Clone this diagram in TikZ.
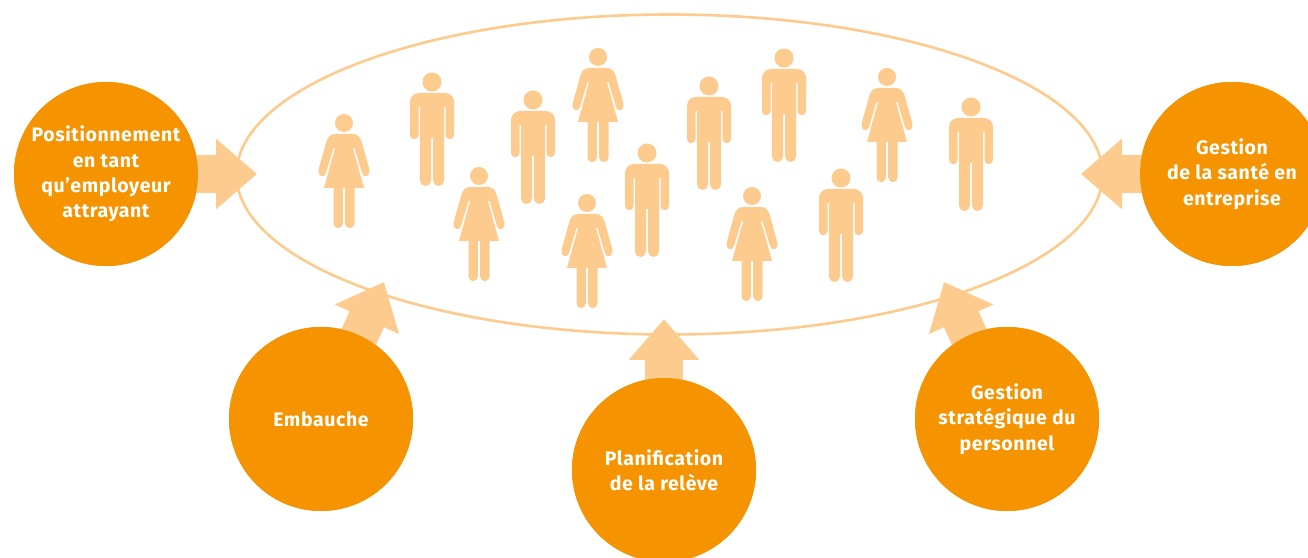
\documentclass[tikz,border=0pt]{standalone}
\usepackage{fontspec}
\setmainfont[LetterSpace=3]{Fira Sans}
\usetikzlibrary{arrows.meta}
\definecolor{deep}{HTML}{F59300}
\definecolor{pale}{HTML}{FDCB8D}
\tikzset{
  x=1pt,y=1pt,
  hub/.style={circle,fill=deep,draw=none,minimum size=184pt,inner sep=0pt,text=white,align=center,
    font=\fontsize{19.5}{25.4}\selectfont\bfseries},
  blockarrow/.style={draw=pale,line width=38pt,-{Triangle[length=41pt,width=68pt]}},
  group/.style={draw=pale,line width=2.6pt,ellipse,inner sep=0pt,minimum width=866pt,minimum height=320pt},
  man/.pic={
    \fill[pale] (0,0) circle (9.5);
    \fill[pale] (-22,-20) arc (180:90:9) -- (13,-11) arc (90:0:9) -- (22,-53) arc (0:-180:4.25)
      -- (13.5,-25) -- (12,-25) -- (12,-98.5) arc (0:-180:5.5) -- (1,-56) -- (-1,-56) -- (-1,-98.5)
      arc (0:-180:5.5) -- (-12,-25) -- (-13.5,-25) -- (-13.5,-53) arc (0:-180:4.25) -- cycle;
  },
  woman/.pic={
    \fill[pale] (0,0) circle (9);
    \fill[pale] (-9,-11) -- (9,-11) .. controls (14,-11) and (17,-15) .. (18,-20) -- (25.5,-47)
      .. controls (26.8,-53) and (19.5,-56) .. (18,-50) -- (10.5,-25) -- (9,-25) -- (20,-65) -- (10.5,-65)
      -- (10.5,-100.5) arc (0:-180:4.65) -- (1.2,-65) -- (-1.2,-65) -- (-1.2,-100.5) arc (0:-180:4.65)
      -- (-10.5,-65) -- (-20,-65) -- (-9,-25) -- (-10.5,-25) -- (-18,-50)
      .. controls (-19.5,-56) and (-26.8,-53) .. (-25.5,-47) -- (-18,-20) .. controls (-17,-15) and (-14,-11) .. (-9,-11) -- cycle;
  }
}
\begin{document}
\begin{tikzpicture}
\clip (0,0) rectangle (1308,557);
\fill[white] (0,0) rectangle (1308,557);
\usetikzlibrary{shapes.geometric}
\node[group] (team) at (669.5,382.5) {};
\coordinate (tipA) at (257,383);
\coordinate (tipB) at (384,275);
\coordinate (tipC) at (664,238);
\coordinate (tipD) at (944,275);
\coordinate (tipE) at (1081,383);
\node[hub] (posi) at (106,383) {Positionnement\\en tant\\qu’employeur\\attrayant};
\node[hub] (emb) at (321,138) {Embauche};
\node[hub] (plan) at (664,87) {Planification\\de la relève};
\node[hub] (strat) at (1007,138) {Gestion\\stratégique du\\personnel};
\node[hub] (sante) at (1232,383) {Gestion\\de la santé en\\entreprise};
\begin{scope}[on background layer/.style={}]
\draw[blockarrow] (posi.center) -- (tipA);
\draw[blockarrow] (emb.center) -- (tipB);
\draw[blockarrow] (plan.center) -- (tipC);
\draw[blockarrow] (strat.center) -- (tipD);
\draw[blockarrow] (sante.center) -- (tipE);
\end{scope}
\node[hub] at (posi) {Positionnement\\en tant\\qu’employeur\\attrayant};
\node[hub] at (emb) {Embauche};
\node[hub] at (plan) {Planification\\de la relève};
\node[hub] at (strat) {Gestion\\stratégique du\\personnel};
\node[hub] at (sante) {Gestion\\de la santé en\\entreprise};
\pic at (344,434) {woman};
\pic at (479,381) {woman};
\pic at (598,500) {woman};
\pic at (587,354) {woman};
\pic at (752,361) {woman};
\pic at (887,480) {woman};
\pic at (432,475) {man};
\pic at (533,457) {man};
\pic at (647,404) {man};
\pic at (709,471) {man};
\pic at (784,499) {man};
\pic at (841,379) {man};
\pic at (971,450) {man};
\end{tikzpicture}
\end{document}
